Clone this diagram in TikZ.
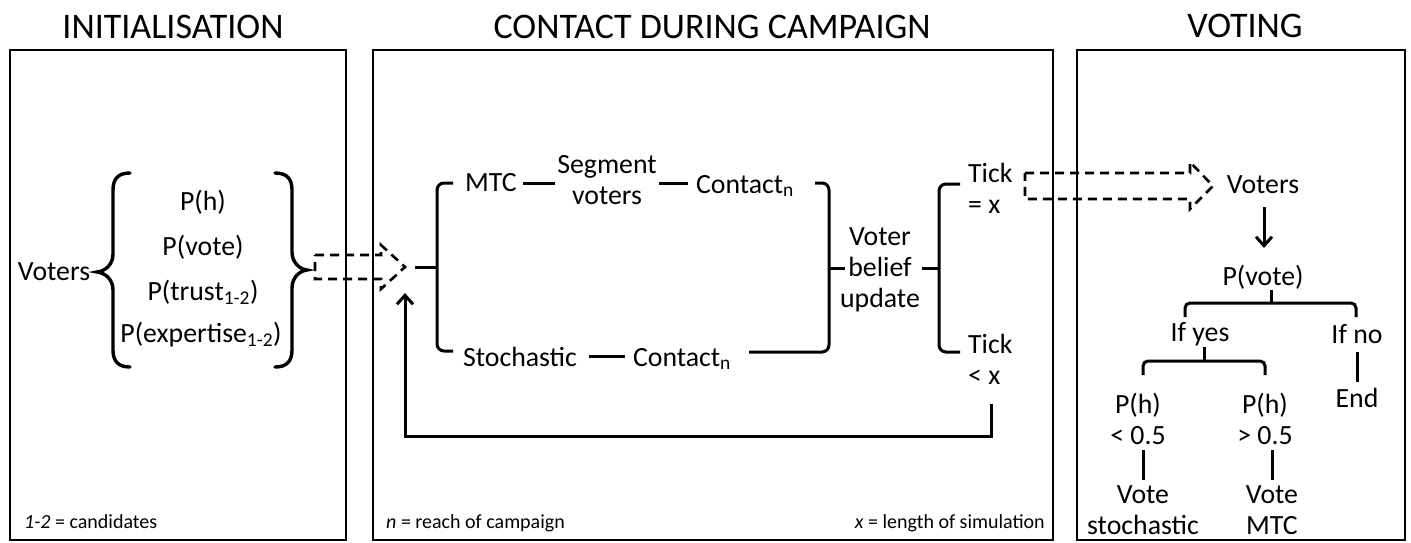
\documentclass[tikz,border=0pt]{standalone}
\usepackage{fontspec}
\setmainfont{Carlito}
\usetikzlibrary{arrows.meta,calc}
\newcommand\mainsz{\fontsize{27.8}{31}\selectfont}
\newcommand\titlesz{\fontsize{36}{40}\selectfont}
\newcommand\notesz{\fontsize{20}{23}\selectfont}
\begin{document}
\begin{tikzpicture}[x=1pt,y=-1pt,
  box/.style={draw,line width=2.2pt},
  conn/.style={line width=3pt},
  brace/.style={line width=3.4pt,line cap=round},
  dasharr/.style={line width=2.6pt,dash pattern=on 9pt off 6pt,line join=miter},
  txt/.style={inner sep=0pt,font=\mainsz,align=center},
  ltxt/.style={inner sep=0pt,font=\mainsz,align=left},
  ttl/.style={inner sep=0pt,font=\titlesz},
  note/.style={inner sep=0pt,font=\notesz},
  arr/.style={conn,-{Straight Barb[length=9pt,width=16pt,line width=3pt]}}]
\useasboundingbox (0,0) rectangle (1411,542);
% titles
\node[ttl] (tInit) at (173,27) {INITIALISATION};
\node[ttl] (tCont) at (712,27) {CONTACT DURING CAMPAIGN};
\node[ttl] (tVote) at (1245,26) {VOTING};
% boxes
\draw[box] (10,50) rectangle (346,540);
\draw[box] (373,50) rectangle (1053,540);
\draw[box] (1077,50) rectangle (1405,540);
% footnotes
\node[note,anchor=base west] (n1) at (24,528) {\textit{1-2} = candidates};
\node[note,anchor=base west] (n2) at (386,528) {\textit{n} = reach of campaign};
\node[note,anchor=base east] (n3) at (1045,528) {\textit{x} = length of simulation};
% initialisation
\node[txt] (voters) at (54,272) {Voters};
\node[txt] (ph) at (203,202) {P(h)};
\node[txt] (pvote) at (203,247) {P(vote)};
\node[txt] (ptrust) at (203,292) {P(trust\textsubscript{1-2})};
\node[txt] (pexp) at (201,335) {P(expertise\textsubscript{1-2})};
\draw[brace] (130,173) .. controls (118,173) and (113,179) .. (113,190) -- (113,254)
  .. controls (113,264) and (106,271) .. (97,272) .. controls (106,273) and (113,280) .. (113,290)
  -- (113,350) .. controls (113,361) and (118,367) .. (130,367);
\draw[brace] (275,173) .. controls (287,173) and (292,179) .. (292,190) -- (292,252)
  .. controls (292,262) and (299,269) .. (307,270) .. controls (299,271) and (292,278) .. (292,288)
  -- (292,350) .. controls (292,361) and (287,367) .. (275,367);
% dashed arrow 1
\draw[dasharr] (315,255) -- (381,255) -- (381,245) -- (405,267) -- (381,289) -- (381,279) -- (315,279) -- cycle;
% contact during campaign
\node[txt] (mtc) at (491,183) {MTC};
\node[txt] (seg) at (607,180) {Segment\\voters};
\node[txt] (cont1) at (745,186) {Contact\textsubscript{n}};
\node[txt] (stoch) at (520,357) {Stochastic};
\node[txt] (cont2) at (682,359) {Contact\textsubscript{n}};
\node[txt] (belief) at (880,270) {Voter\\belief\\update};
\node[ltxt,anchor=west] (tick1) at (968,188) {Tick\\= x};
\node[ltxt,anchor=west] (tick2) at (968,359) {Tick\\< x};
\coordinate (lbtip) at (415,267);
\coordinate (rbtip) at (845,268);
\draw[conn] (mtc.east |- 0,183) ++(6,0) -- ($(seg.west |- 0,183)+(-2,0)$);
\draw[conn] ($(seg.east |- 0,183)+(2,0)$) -- ($(cont1.west |- 0,183)+(-8,0)$);
\draw[conn] ($(stoch.east |- 0,356)+(12,0)$) -- ($(cont2.west |- 0,356)+(-8,0)$);
% left bracket
\draw[conn,rounded corners=7pt] (453,183) -- (437,183) -- (437,351) -- (453,351);
\draw[conn] (lbtip) -- (437,267);
% right bracket
\draw[conn,rounded corners=7pt] (815,183) -- (829,183) -- (829,352) -- ($(cont2.east |- 0,352)+(18,0)$);
\draw[conn] (829,268) -- (rbtip);
% second bracket
\draw[conn] (belief.east |- 0,268) ++(2,0) -- (939,268);
\draw[conn,rounded corners=7pt] (960,184) -- (939,184) -- (939,352) -- (960,352);
% feedback
\coordinate (fbc1) at (991,436);
\coordinate (fbc2) at (405,436);
\coordinate (fbend) at (405,293);
\draw[arr] ($(tick2.south -| 991,0)+(0,20)$) -- (fbc1) -- (fbc2) -- (fbend);
% dashed arrow 2
\draw[dasharr] (1025,173) -- (1190,173) -- (1190,162) -- (1213,186) -- (1190,209) -- (1190,199) -- (1025,199) -- cycle;
% voting
\node[txt] (rvoters) at (1263,185) {Voters};
\node[txt] (rpvote) at (1263,277) {P(vote)};
\node[txt] (ifyes) at (1200,334) {If yes};
\node[txt] (ifno) at (1357,334) {If no};
\node[txt] (end) at (1357,398) {End};
\node[txt] (ph1) at (1138,419) {P(h)\\< 0.5};
\node[txt] (ph2) at (1265,419) {P(h)\\> 0.5};
\node[txt] (vote1) at (1143,510) {Vote\\stochastic};
\node[txt] (vote2) at (1272,510) {Vote\\MTC};
\draw[arr] (1264,207) -- (1264,248);
\draw[conn] (1271,290) -- (1271,303);
\draw[conn,rounded corners=5pt] (1185,317) -- (1185,303) -- (1356,303) -- (1356,317);
\draw[conn] (1204,347) -- (1204,361);
\draw[conn,rounded corners=5pt] (1143,375) -- (1143,361) -- (1265,361) -- (1265,375);
\draw[conn] (1357,352) -- (1357,382);
\draw[conn] (1143,450) -- (1143,480);
\draw[conn] (1272,450) -- (1272,480);
\end{tikzpicture}
\end{document}
